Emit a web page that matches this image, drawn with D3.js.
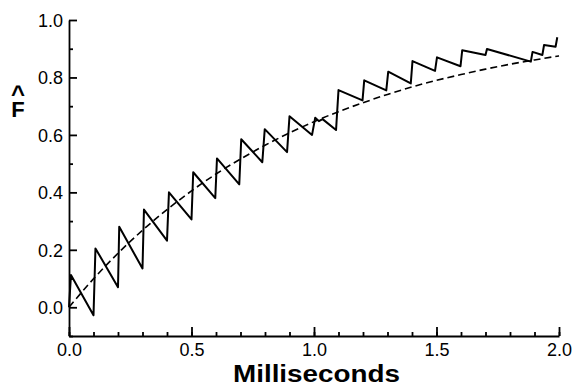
<!DOCTYPE html>
<html>
<head>
<meta charset="utf-8">
<script src="https://cdn.jsdelivr.net/npm/d3@7"></script>
<style>
  html, body { margin: 0; padding: 0; background: #fff; }
  svg { display: block; }
  text { font-family: "Liberation Sans", Arial, Helvetica, sans-serif; fill: #000; }
</style>
</head>
<body>
<div id="chart"></div>
<script>
// == DATA ==
// sawtooth trace (ms, F-hat)
const sawT = [0.0, 0.008, 0.1, 0.108, 0.2, 0.205, 0.3, 0.306, 0.4, 0.408,
  0.5, 0.507, 0.597, 0.604, 0.695, 0.703, 0.789, 0.799, 0.89, 0.9,
  0.992, 1.005, 1.02, 1.035, 1.09, 1.1, 1.198, 1.205, 1.295, 1.303,
  1.395, 1.402, 1.494, 1.502, 1.598, 1.605, 1.7, 1.706, 1.885, 1.892,
  1.932, 1.939, 1.986, 1.993];
const sawF = [0.0, 0.112, -0.028, 0.205, 0.07, 0.28, 0.135, 0.34, 0.232, 0.40,
  0.306, 0.47, 0.38, 0.518, 0.428, 0.585, 0.505, 0.62, 0.54, 0.665,
  0.60, 0.66, 0.648, 0.655, 0.617, 0.756, 0.72, 0.79, 0.755, 0.82,
  0.779, 0.857, 0.823, 0.87, 0.839, 0.895, 0.878, 0.899, 0.855, 0.889,
  0.878, 0.913, 0.907, 0.94];

// dashed smooth curve
const fitT = [0.0, 0.1, 0.2, 0.3, 0.4, 0.5, 0.6, 0.7, 0.8, 0.9, 1.0,
  1.1, 1.2, 1.3, 1.4, 1.5, 1.6, 1.7, 1.8, 1.9, 2.0];
const fitF = [0.0, 0.099, 0.188, 0.268, 0.34, 0.405, 0.464, 0.516, 0.564, 0.607, 0.646,
  0.681, 0.712, 0.741, 0.767, 0.79, 0.81, 0.829, 0.846, 0.861, 0.875];

const xMajor = [0.0, 0.5, 1.0, 1.5, 2.0];
const xMinor = d3.range(0, 21).map(i => i / 10);
const yMajor = [0.0, 0.2, 0.4, 0.6, 0.8, 1.0];
const yMinor = [-0.1, 0.1, 0.3, 0.5, 0.7, 0.9];

// == SETUP ==
const width = 574;
const height = 388;

const svg = d3.select('#chart')
  .append('svg')
  .attr('width', width)
  .attr('height', height);

const x = d3.scaleLinear().domain([0, 2]).range([69, 559]);
const y = d3.scaleLinear().domain([-0.1, 1.0]).range([336, 20]);

// == AXES ==
const gx = svg.append('g').attr('transform', `translate(0,${y(-0.1)})`);
gx.call(d3.axisBottom(x).tickValues(xMinor).tickSizeInner(-4).tickSizeOuter(0).tickFormat(''));
gx.call(g => g.select('.domain').remove());
const gxMajor = svg.append('g').attr('transform', `translate(0,${y(-0.1)})`);
gxMajor.call(d3.axisBottom(x).tickValues(xMajor).tickSizeInner(-9).tickSizeOuter(0)
  .tickPadding(6).tickFormat(d3.format('.1f')));

const gy = svg.append('g').attr('transform', `translate(${x(0)},0)`);
gy.call(d3.axisLeft(y).tickValues(yMinor).tickSizeInner(-4).tickSizeOuter(0).tickFormat(''));
gy.call(g => g.select('.domain').remove());
const gyMajor = svg.append('g').attr('transform', `translate(${x(0)},0)`);
gyMajor.call(d3.axisLeft(y).tickValues(yMajor).tickSizeInner(-8).tickSizeOuter(0)
  .tickPadding(6).tickFormat(d3.format('.1f')));

svg.selectAll('.domain, .tick line')
  .attr('stroke', '#000')
  .attr('stroke-width', 1.8);

gxMajor.selectAll('.tick text')
  .attr('font-size', '18px')
  .attr('dy', '0.78em');
gyMajor.selectAll('.tick text')
  .attr('font-size', '18px')
  .attr('dy', '0.36em');
svg.selectAll('.tick text').attr('fill', '#000');

// axis titles
svg.append('text')
  .attr('x', 233)
  .attr('y', 382)
  .attr('font-size', '23.5px')
  .attr('font-weight', 'bold')
  .attr('textLength', 167)
  .attr('lengthAdjust', 'spacingAndGlyphs')
  .text('Milliseconds');

// F-hat: hat and letter in one text element
const fLabel = svg.append('text')
  .attr('text-anchor', 'middle')
  .attr('font-weight', 'bold');
fLabel.append('tspan')
  .attr('x', 18)
  .attr('y', 102)
  .attr('font-size', '24px')
  .text('^');
fLabel.append('tspan')
  .attr('x', 18)
  .attr('y', 117)
  .attr('font-size', '22px')
  .text('F');

// == LINES ==
const fitData = fitT.map((t, i) => [t, fitF[i]]);
const sawData = sawT.map((t, i) => [t, sawF[i]]);

svg.append('path')
  .datum(fitData)
  .attr('fill', 'none')
  .attr('stroke', '#000')
  .attr('stroke-width', 1.6)
  .attr('stroke-dasharray', '7,4')
  .attr('d', d3.line().x(d => x(d[0])).y(d => y(d[1])).curve(d3.curveMonotoneX));

svg.append('path')
  .datum(sawData)
  .attr('fill', 'none')
  .attr('stroke', '#000')
  .attr('stroke-width', 2)
  .attr('stroke-linejoin', 'round')
  .attr('d', d3.line().x(d => x(d[0])).y(d => y(d[1])));
</script>
</body>
</html>
